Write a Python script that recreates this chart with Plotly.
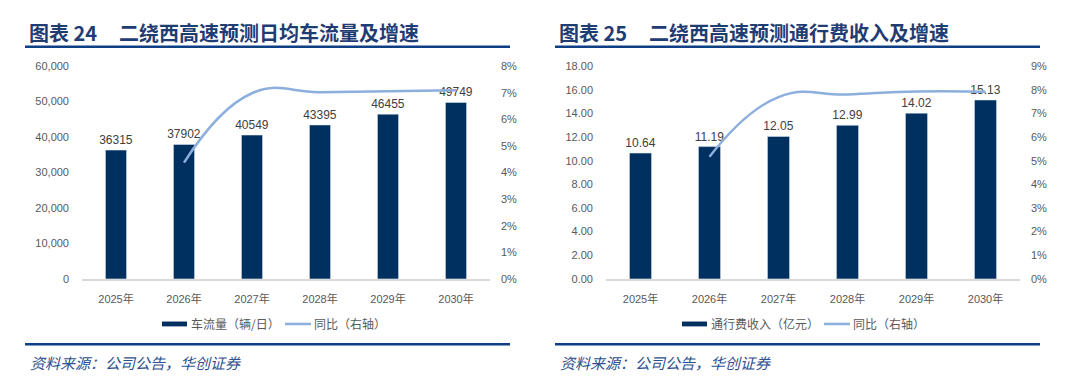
import plotly.graph_objects as go

years = ["2025年", "2026年", "2027年", "2028年", "2029年", "2030年"]
traffic = [36315, 37902, 40549, 43395, 46455, 49749]
traffic_yoy = [None, 0.0437, 0.0698, 0.0702, 0.0705, 0.0709]
toll = [10.64, 11.19, 12.05, 12.99, 14.02, 15.13]
toll_yoy = [None, 0.0517, 0.0769, 0.0780, 0.0793, 0.0792]

W, H = 1080, 392
BAR = "#003060"
LINE = "#8CAFDD"
TXT = "#595959"
NAVY = "#1F3C73"
FONT = "Liberation Sans, Noto Sans CJK SC, sans-serif"
CJK = "Noto Sans CJK SC, sans-serif"

def px(x):
    return x / W

def py(y):
    return 1 - y / H

fig = go.Figure()

fig.add_trace(go.Bar(x=years, y=traffic, marker_color=BAR, width=0.31,
                     text=[str(v) for v in traffic], textposition="outside",
                     constraintext="none",
                     textfont=dict(size=12, color="#404040", family=FONT),
                     cliponaxis=False, xaxis="x", yaxis="y", showlegend=False))
fig.add_trace(go.Scatter(x=years, y=traffic_yoy, mode="lines",
                         line=dict(color=LINE, width=2.5, shape="spline", smoothing=1.3),
                         xaxis="x", yaxis="y2", showlegend=False))
fig.add_trace(go.Bar(x=years, y=toll, marker_color=BAR, width=0.32,
                     text=[f"{v:.2f}" for v in toll], textposition="outside",
                     constraintext="none",
                     textfont=dict(size=12, color="#404040", family=FONT),
                     cliponaxis=False, xaxis="x2", yaxis="y3", showlegend=False))
fig.add_trace(go.Scatter(x=years, y=toll_yoy, mode="lines",
                         line=dict(color=LINE, width=2.5, shape="spline", smoothing=1.3),
                         xaxis="x2", yaxis="y4", showlegend=False))

ydom = [py(281.5), py(62)]
tickfont = dict(size=11, color=TXT, family=FONT)

fig.update_layout(
    width=W, height=H, margin=dict(l=0, r=0, t=0, b=0),
    paper_bgcolor="white", plot_bgcolor="white",
    font=dict(family=FONT, color=TXT),
    xaxis=dict(domain=[px(82), px(490)], anchor="y", showline=True,
               linecolor="#D9D9D9", linewidth=1.5, ticks="", tickfont=tickfont,
               showgrid=False, ticklabelstandoff=9),
    yaxis=dict(domain=ydom, anchor="x", range=[0, 60000], dtick=10000,
               tickformat=",", showgrid=False, zeroline=False, tickfont=tickfont,
               ticklabelstandoff=12),
    yaxis2=dict(overlaying="y", side="right", anchor="x", range=[0, 0.08],
                dtick=0.01, tickformat=".0%", showgrid=False, zeroline=False,
                tickfont=tickfont, ticklabelstandoff=10),
    xaxis2=dict(domain=[px(606), px(1020)], anchor="y3", showline=True,
                linecolor="#D9D9D9", linewidth=1.5, ticks="", tickfont=tickfont,
                showgrid=False, ticklabelstandoff=9),
    yaxis3=dict(domain=ydom, anchor="x2", range=[0, 18], dtick=2,
                tickformat=".2f", showgrid=False, zeroline=False, tickfont=tickfont,
                ticklabelstandoff=12),
    yaxis4=dict(overlaying="y3", side="right", anchor="x2", range=[0, 0.09],
                dtick=0.01, tickformat=".0%", showgrid=False, zeroline=False,
                tickfont=tickfont, ticklabelstandoff=10),
)

shapes = []
annotations = []

def panel(x0, x1, title_no, title, leg1, lx_bar, lx_line):
    annotations.append(dict(x=px(x0 + 2), y=py(27), xref="paper", yref="paper",
                            xanchor="left", yanchor="middle", showarrow=False,
                            text=f"<b>图表 {title_no}</b>",
                            font=dict(size=20, color=NAVY, family=CJK)))
    annotations.append(dict(x=px(x0 + 92), y=py(27), xref="paper", yref="paper",
                            xanchor="left", yanchor="middle", showarrow=False,
                            text=f"<b>{title}</b>",
                            font=dict(size=20, color=NAVY, family=CJK)))
    shapes.append(dict(type="line", xref="paper", yref="paper",
                       x0=px(x0), x1=px(x1), y0=py(42), y1=py(42),
                       line=dict(color="#0E3F85", width=2.5)))
    shapes.append(dict(type="line", xref="paper", yref="paper",
                       x0=px(x0), x1=px(x1), y0=py(349), y1=py(349),
                       line=dict(color="#0E3F85", width=2.5)))
    annotations.append(dict(x=px(x0 + 3), y=py(368), xref="paper", yref="paper",
                            xanchor="left", yanchor="middle", showarrow=False,
                            text="<i>资料来源：公司公告，华创证券</i>",
                            font=dict(size=15, color="#2F4F8F", family=CJK)))
    shapes.append(dict(type="rect", xref="paper", yref="paper",
                       x0=px(lx_bar), x1=px(lx_bar + 25), y0=py(325.5), y1=py(330.5),
                       fillcolor=BAR, line=dict(width=0)))
    annotations.append(dict(x=px(lx_bar + 27), y=py(328), xref="paper", yref="paper",
                            xanchor="left", yanchor="middle", showarrow=False,
                            text=leg1, font=dict(size=12, color=TXT, family=CJK)))
    shapes.append(dict(type="line", xref="paper", yref="paper",
                       x0=px(lx_line), x1=px(lx_line + 26), y0=py(328), y1=py(328),
                       line=dict(color=LINE, width=2.5)))
    annotations.append(dict(x=px(lx_line + 27), y=py(328), xref="paper", yref="paper",
                            xanchor="left", yanchor="middle", showarrow=False,
                            text="同比（右轴）", font=dict(size=12, color=TXT, family=CJK)))

panel(25, 510, "24", "二绕西高速预测日均车流量及增速", "车流量（辆/日）", 162, 285)
panel(555, 1040, "25", "二绕西高速预测通行费收入及增速", "通行费收入（亿元）", 682, 824)

fig.update_layout(shapes=shapes, annotations=annotations)
fig.write_html("out.html",
               config={"displayModeBar": False},
               post_script="document.body.style.margin='0';document.body.style.overflow='hidden';")
